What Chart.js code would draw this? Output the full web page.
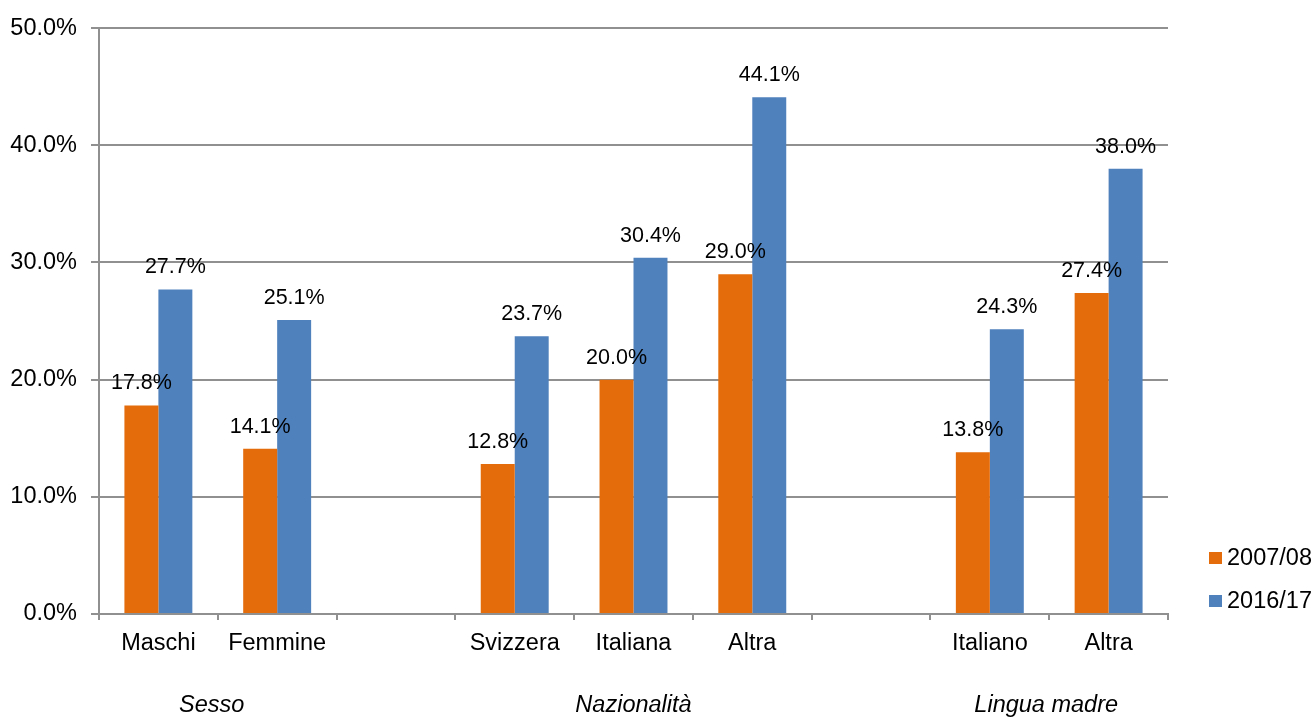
<!DOCTYPE html>
<html><head><meta charset="utf-8">
<script src="https://cdn.jsdelivr.net/npm/chart.js@4.4.0/dist/chart.umd.min.js"></script>
<style>html,body{margin:0;padding:0;background:#fff;} #wrap{width:1316px;height:718px;position:relative;}</style>
</head><body><div id="wrap"><canvas id="c"></canvas></div>
<script>
const categories = ['Maschi','Femmine','','Svizzera','Italiana','Altra','','Italiano','Altra'];
const series2007 = [17.8, 14.1, null, 12.8, 20.0, 29.0, null, 13.8, 27.4];
const series2016 = [27.7, 25.1, null, 23.7, 30.4, 44.1, null, 24.3, 38.0];
const seriesNames = ['2007/08', '2016/17'];
const yTicks = [0, 10, 20, 30, 40, 50];
const groupNames = ['Sesso', 'Nazionalità', 'Lingua madre'];
const groupSpans = [[0, 1], [3, 5], [7, 8]];

const FONT = "'Liberation Sans', Arial, Helvetica, sans-serif";
const GRID = '#909090';

const extrasPlugin = {
  id: 'extras',
  afterDatasetsDraw(chart, args, opts) {
    const ctx = chart.ctx;
    ctx.save();
    ctx.font = '21.5px ' + FONT;
    ctx.fillStyle = '#000';
    ctx.textAlign = 'center';
    ctx.textBaseline = 'middle';
    chart.data.datasets.forEach((ds, di) => {
      const meta = chart.getDatasetMeta(di);
      meta.data.forEach((el, i) => {
        const v = ds.data[i];
        if (v === null || v === undefined) return;
        ctx.fillText(v.toFixed(1) + '%', el.x, el.y - 22);
      });
    });
    ctx.restore();
  },
  afterDraw(chart, args, opts) {
    const ctx = chart.ctx;
    const xs = chart.scales.x;
    ctx.save();
    ctx.font = 'italic 23.5px ' + FONT;
    ctx.fillStyle = '#000';
    ctx.textAlign = 'center';
    ctx.textBaseline = 'middle';
    groupNames.forEach((g, i) => {
      const [a, b] = groupSpans[i];
      const cx = (xs.getPixelForValue(a) + xs.getPixelForValue(b)) / 2 + opts.groupDx[i];
      ctx.fillText(g, cx, opts.groupY);
    });
    ctx.font = '23.5px ' + FONT;
    ctx.textAlign = 'left';
    chart.data.datasets.forEach((ds, i) => {
      const y = opts.legendY + i * opts.legendGap;
      ctx.fillStyle = ds.backgroundColor;
      ctx.fillRect(opts.legendX, y - 6, 13, 12);
      ctx.fillStyle = '#000';
      ctx.fillText(ds.label, opts.legendX + 18, y + 1);
    });
    ctx.restore();
  }
};

new Chart(document.getElementById('c'), {
  type: 'bar',
  data: {
    labels: categories,
    datasets: [
      { label: seriesNames[0], data: series2007, backgroundColor: '#E46C0A', categoryPercentage: 0.572, barPercentage: 1.0 },
      { label: seriesNames[1], data: series2016, backgroundColor: '#4F81BD', categoryPercentage: 0.572, barPercentage: 1.0 }
    ]
  },
  plugins: [extrasPlugin],
  options: {
    responsive: true,
    maintainAspectRatio: false,
    animation: false,
    devicePixelRatio: 1,
    layout: { padding: { left: 0, right: 148, top: 25, bottom: 0 } },
    plugins: {
      legend: { display: false },
      tooltip: { enabled: false },
      extras: { groupY: 705, groupDx: [-6, 0, -3], legendX: 1209, legendY: 558, legendGap: 43 }
    },
    scales: {
      x: {
        grid: { offset: true, drawOnChartArea: false, drawTicks: true, tickLength: 6, color: GRID, lineWidth: 2 },
        border: { color: GRID, width: 2 },
        ticks: { font: { family: FONT, size: 23.5 }, color: '#000', padding: 9, autoSkip: false, maxRotation: 0 },
        afterFit: s => { s.height = 104; }
      },
      y: {
        min: 0, max: 50,
        afterBuildTicks: s => { s.ticks = yTicks.map(v => ({ value: v })); },
        grid: { color: GRID, lineWidth: 2, tickLength: 8 },
        border: { color: GRID, width: 2 },
        ticks: { font: { family: FONT, size: 23.5 }, color: '#000', padding: 14, callback: v => v.toFixed(1) + '%' },
        afterFit: s => { s.width = 99; }
      }
    }
  }
});
</script>
</body></html>
